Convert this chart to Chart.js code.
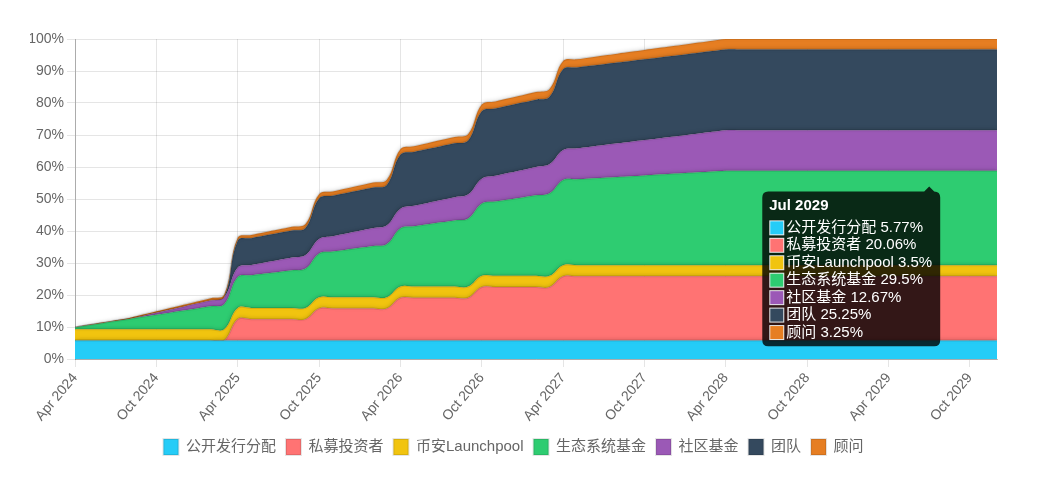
<!DOCTYPE html>
<html><head><meta charset="utf-8">
<script src="https://cdn.jsdelivr.net/npm/chart.js@4.4.1/dist/chart.umd.min.js"></script>
<style>html,body{margin:0;padding:0;background:#fff}</style>
</head><body>
<canvas id="c" width="1040" height="477"></canvas>
<script>
const labels = [
'Apr 2024','May 2024','Jun 2024','Jul 2024','Aug 2024','Sep 2024','Oct 2024','Nov 2024','Dec 2024',
'Jan 2025','Feb 2025','Mar 2025','Apr 2025','May 2025','Jun 2025','Jul 2025','Aug 2025','Sep 2025','Oct 2025','Nov 2025','Dec 2025',
'Jan 2026','Feb 2026','Mar 2026','Apr 2026','May 2026','Jun 2026','Jul 2026','Aug 2026','Sep 2026','Oct 2026','Nov 2026','Dec 2026',
'Jan 2027','Feb 2027','Mar 2027','Apr 2027','May 2027','Jun 2027','Jul 2027','Aug 2027','Sep 2027','Oct 2027','Nov 2027','Dec 2027',
'Jan 2028','Feb 2028','Mar 2028','Apr 2028','May 2028','Jun 2028','Jul 2028','Aug 2028','Sep 2028','Oct 2028','Nov 2028','Dec 2028',
'Jan 2029','Feb 2029','Mar 2029','Apr 2029','May 2029','Jun 2029','Jul 2029','Aug 2029','Sep 2029','Oct 2029','Nov 2029','Dec 2029'];

const shownTicks = ['Apr 2024','Oct 2024','Apr 2025','Oct 2025','Apr 2026','Oct 2026','Apr 2027','Oct 2027','Apr 2028','Oct 2028','Apr 2029','Oct 2029'];
const yTicks = [0,10,20,30,40,50,60,70,80,90,100];

const seriesNames = ['公开发行分配','私募投资者','币安Launchpool','生态系统基金','社区基金','团队','顾问'];
const seriesColors = ['#25ccf7','#ff7373','#f1c40f','#2ecc71','#9b59b6','#34495e','#e67e22'];

const publicSale = [
5.77,5.77,5.77,5.77,5.77,5.77,5.77,5.77,5.77,5.77,5.77,5.77,
5.77,5.77,5.77,5.77,5.77,5.77,5.77,5.77,5.77,5.77,5.77,5.77,
5.77,5.77,5.77,5.77,5.77,5.77,5.77,5.77,5.77,5.77,5.77,5.77,
5.77,5.77,5.77,5.77,5.77,5.77,5.77,5.77,5.77,5.77,5.77,5.77,
5.77,5.77,5.77,5.77,5.77,5.77,5.77,5.77,5.77,5.77,5.77,5.77,
5.77,5.77,5.77,5.77,5.77,5.77,5.77,5.77,5.77];
const privateInvestors = [
0,0,0,0,0,0,0,0,0,0,0,0,
6.69,6.69,6.69,6.69,6.69,6.69,
10.03,10.03,10.03,10.03,10.03,10.03,
13.37,13.37,13.37,13.37,13.37,13.37,
16.71,16.71,16.71,16.71,16.71,16.71,
20.06,20.06,20.06,20.06,20.06,20.06,20.06,20.06,20.06,20.06,20.06,20.06,
20.06,20.06,20.06,20.06,20.06,20.06,20.06,20.06,20.06,20.06,20.06,20.06,
20.06,20.06,20.06,20.06,20.06,20.06,20.06,20.06,20.06];
const launchpool = [
3.5,3.5,3.5,3.5,3.5,3.5,3.5,3.5,3.5,3.5,3.5,3.5,
3.5,3.5,3.5,3.5,3.5,3.5,3.5,3.5,3.5,3.5,3.5,3.5,
3.5,3.5,3.5,3.5,3.5,3.5,3.5,3.5,3.5,3.5,3.5,3.5,
3.5,3.5,3.5,3.5,3.5,3.5,3.5,3.5,3.5,3.5,3.5,3.5,
3.5,3.5,3.5,3.5,3.5,3.5,3.5,3.5,3.5,3.5,3.5,3.5,
3.5,3.5,3.5,3.5,3.5,3.5,3.5,3.5,3.5];
const ecosystem = [
0.6,1.26,1.92,2.58,3.24,3.9,4.56,5.22,5.88,6.54,7.2,7.86,
9.7,10.22,10.74,11.26,11.78,12.3,
13.7,14.28,14.86,15.44,16.02,16.6,
18.2,18.82,19.44,20.06,20.68,21.3,
22.6,23.24,23.88,24.52,25.16,25.8,
26.6,26.84,27.08,27.33,27.57,27.81,28.05,28.29,28.53,28.77,29.02,29.26,29.5,
29.5,29.5,29.5,29.5,29.5,29.5,29.5,29.5,29.5,29.5,
29.5,29.5,29.5,29.5,29.5,29.5,29.5,29.5,29.5,29.5];
const community = [
0,0,0,0,0,0.3,0.6,0.9,1.2,1.5,1.8,2.1,
2.9,3.17,3.44,3.71,3.98,4.26,4.53,4.8,5.07,5.34,5.61,5.88,
6.15,6.42,6.69,6.97,7.24,7.51,7.78,8.05,8.32,8.59,8.86,9.13,
9.4,9.67,9.95,10.22,10.49,10.76,11.03,11.3,11.57,11.84,12.11,12.39,12.67,
12.67,12.67,12.67,12.67,12.67,12.67,12.67,12.67,12.67,12.67,
12.67,12.67,12.67,12.67,12.67,12.67,12.67,12.67,12.67,12.67];
const team = [
0,0,0,0,0,0,0,0,0,0,0,0,
8.42,8.42,8.42,8.42,8.42,8.42,
12.63,12.63,12.63,12.63,12.63,12.63,
16.83,16.83,16.83,16.83,16.83,16.83,
21.04,21.04,21.04,21.04,21.04,21.04,
25.25,25.25,25.25,25.25,25.25,25.25,25.25,25.25,25.25,25.25,25.25,25.25,
25.25,25.25,25.25,25.25,25.25,25.25,25.25,25.25,25.25,25.25,25.25,25.25,
25.25,25.25,25.25,25.25,25.25,25.25,25.25,25.25,25.25];
const advisors = [
0.07,0.14,0.2,0.27,0.34,0.41,0.47,0.54,0.61,0.68,0.74,0.81,
0.88,0.95,1.02,1.08,1.15,1.22,1.29,1.35,1.42,1.49,1.56,1.62,
1.69,1.76,1.83,1.9,1.96,2.03,2.1,2.17,2.23,2.3,2.37,2.44,
2.51,2.57,2.64,2.71,2.78,2.84,2.91,2.98,3.05,3.11,3.18,3.25,
3.25,3.25,3.25,3.25,3.25,3.25,3.25,3.25,3.25,3.25,3.25,
3.25,3.25,3.25,3.25,3.25,3.25,3.25,3.25,3.25,3.25];

const seriesValues = [publicSale, privateInvestors, launchpool, ecosystem, community, team, advisors];
const tooltipMonth = 'Jul 2029';

Chart.defaults.font.family = "'Liberation Sans', Arial, 'Noto Sans CJK SC', sans-serif";
Chart.defaults.color = '#666';

const datasets = seriesNames.map((name, i) => ({
  label: name,
  data: seriesValues[i].map((v, j) => ({ x: j, y: v })),
  backgroundColor: seriesColors[i],
  borderColor: 'rgba(0,0,0,0.1)',
  borderWidth: 2,
  fill: i === 0 ? 'origin' : '-1',
  pointRadius: 0,
  pointHoverRadius: 0,
  pointHitRadius: 5,
  tension: 0.4
}));

const shadowPlugin = {
  id: 'areaShadow',
  beforeDatasetsDraw(chart) {
    const c = chart.ctx;
    c.save();
    c.shadowColor = 'rgba(0,0,0,0.22)';
    c.shadowBlur = 5;
  },
  afterDatasetsDraw(chart) { chart.ctx.restore(); }
};

Chart.Tooltip.positioners.shifted = function (items, eventPos) {
  const p = Chart.Tooltip.positioners.average.call(this, items, eventPos);
  return p ? { x: p.x, y: p.y + 3 } : p;
};

const chart = new Chart(document.getElementById('c'), {
  type: 'line',
  data: { datasets },
  plugins: [shadowPlugin],
  options: {
    responsive: false,
    animation: false,
    layout: { padding: { top: 39, right: 43, bottom: 12, left: 30 } },
    interaction: { mode: 'index', intersect: false },
    scales: {
      x: {
        type: 'linear', min: 0, max: labels.length - 1,
        afterBuildTicks(s) {
          s.ticks = shownTicks.map(t => ({ value: labels.indexOf(t) }));
        },
        ticks: {
          autoSkip: false, minRotation: 50, maxRotation: 50,
          font: { size: 14 }, color: '#666', padding: 3,
          callback: (v) => labels[v]
        },
        grid: { color: 'rgba(0,0,0,0.1)', tickLength: 8 },
        border: { color: 'rgba(0,0,0,0.25)' },
        afterFit(s) { s.height = 70; }
      },
      y: {
        stacked: true, min: 0, max: 100,
        afterBuildTicks(s) { s.ticks = yTicks.map(v => ({ value: v })); },
        ticks: { font: { size: 14 }, color: '#666', padding: 3, callback: v => v + '%' },
        grid: { color: 'rgba(0,0,0,0.1)', tickLength: 8 },
        border: { color: 'rgba(0,0,0,0.25)' },
        afterFit(s) { s.width = 45; }
      }
    },
    plugins: {
      legend: {
        position: 'bottom',
        labels: { boxWidth: 15, boxHeight: 16, font: { size: 15 }, color: '#666', padding: 10 }
      },
      tooltip: {
        enabled: true, mode: 'index', intersect: false, position: 'shifted',
        xAlign: 'right', yAlign: 'top',
        backgroundColor: 'rgba(0,0,0,0.8)',
        titleColor: '#fff', bodyColor: '#fff',
        titleFont: { size: 15, weight: 'bold', lineHeight: 1.1 },
        bodyFont: { size: 15, lineHeight: 1.03 },
        bodySpacing: 2, padding: { top: 6, bottom: 6, left: 7, right: 8 }, titleMarginBottom: 6,
        boxWidth: 15, boxHeight: 15, cornerRadius: 6, caretSize: 5, caretPadding: 2,
        callbacks: {
          title: (items) => labels[items[0].parsed.x],
          label: (ctx) => ctx.dataset.label + ' ' + ctx.parsed.y + '%'
        }
      }
    }
  }
});

const idx = labels.indexOf(tooltipMonth);
chart.tooltip.setActiveElements(
  datasets.map((_, i) => ({ datasetIndex: i, index: idx })),
  { x: chart.scales.x.getPixelForValue(idx), y: chart.scales.y.getPixelForValue(50) }
);
chart.update('none');
</script>
</body></html>
